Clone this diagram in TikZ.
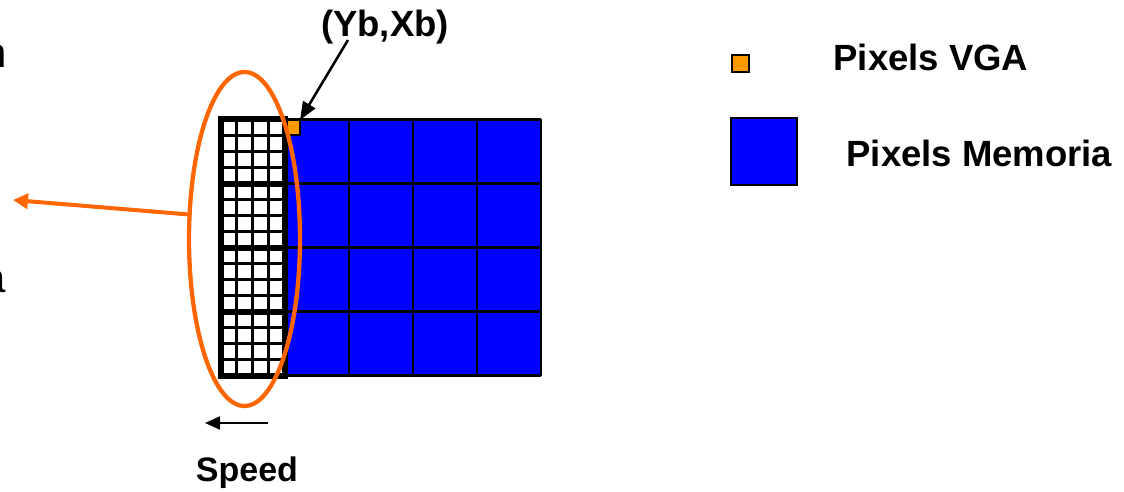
\documentclass[tikz,border=0pt]{standalone}
\usepackage{fontspec}
\setmainfont{Liberation Sans}
\usetikzlibrary{arrows.meta,shapes.geometric}
\definecolor{memblue}{RGB}{0,0,255}
\definecolor{vgaorange}{RGB}{255,153,0}
\definecolor{ringorange}{RGB}{255,102,0}
\tikzset{
  lbl/.style={font=\fontsize{36.5}{40}\selectfont\bfseries, inner sep=0pt, outer sep=0pt},
  cut/.style={font=\fontsize{42}{46}\selectfont, inner sep=0pt, outer sep=0pt},
  vgapix/.style={draw=black, line width=2pt, fill=vgaorange, minimum size=15pt, inner sep=0pt, outer sep=0pt},
  mempix/.style={draw=black, line width=2pt, fill=memblue, minimum size=65pt, inner sep=0pt, outer sep=0pt},
  gridline/.style={line width=2.7pt, black},
  thinline/.style={line width=2.5pt, black},
  thickline/.style={line width=6pt, black, line join=miter},
  ringstyle/.style={draw=ringorange, line width=4.3pt, ellipse, inner sep=0pt, outer sep=0pt},
  blackarrow/.style={line width=2.5pt, -{Triangle[length=18pt,width=14pt]}},
  speedarrow/.style={line width=2pt, -{Triangle[length=15pt,width=13pt]}},
  ringarrow/.style={draw=ringorange, line width=4pt, -{Triangle[length=15pt,width=15pt]}}
}
\begin{document}
\begin{tikzpicture}[x=1pt,y=-1pt]
\useasboundingbox (0,0) rectangle (1124,492);

% cut-off texts at the left edge
\node[cut, anchor=base east] (cutn) at (6.7,68) {n};
\node[cut, anchor=base east] (cuta) at (5.5,292.7) {a};

% memory pixels grid
\fill[memblue] (285,119.5) rectangle (541,375.5);
\foreach \i in {0,...,4} {
  \draw[gridline] (285+64*\i,119.5) -- (285+64*\i,375.5);
  \draw[gridline] (285,119.5+64*\i) -- (541,119.5+64*\i);
}

% VGA pixel
\node[vgapix] (vga) at (292.5,127.5) {};

% white VGA column
\fill[white] (220.5,119.5) rectangle (284.5,375.5);
\foreach \j in {1,2,3,5,6,7,9,10,11,13,14,15} {
  \draw[thinline] (220.5,119.5+16*\j) -- (284.5,119.5+16*\j);
}
\foreach \i in {1,2,3} {
  \draw[thinline] (220.5+16*\i,119.5) -- (220.5+16*\i,375.5);
}
\foreach \k in {1,2,3} {
  \draw[thickline] (220.5,119.5+64*\k) -- (284.5,119.5+64*\k);
}
\draw[thickline] (220.5,119.5) rectangle (284.5,375.5);

% orange ring
\node[ringstyle, minimum width=111pt, minimum height=334pt] (ring) at (244.5,239) {};
\coordinate (ringtip) at (13,200);
\draw[ringarrow] (ring.156) -- (ringtip);

% (Yb,Xb) label and arrow
\node[lbl, anchor=base] (ybxb) at (385,37) {(Yb,Xb)};
\coordinate (ybstart) at (348,40);
\draw[blackarrow] (ybstart) -- (vga.north east);

% Speed
\coordinate (spdtail) at (268,423);
\coordinate (spdtip) at (205,423);
\draw[speedarrow] (spdtail) -- (spdtip);
\node[lbl, font=\fontsize{34}{38}\selectfont\bfseries, anchor=base] (speed) at (247,481) {Speed};

% legend
\node[vgapix, minimum size=17pt] (legvga) at (740,64) {};
\node[lbl, anchor=base west] (legvgatxt) at (833.5,70.7) {Pixels VGA};
\node[mempix, minimum size=66pt] (legmem) at (764,151.5) {};
\node[lbl, anchor=base west] (legmemtxt) at (846.5,166.7) {Pixels Memoria};
\end{tikzpicture}
\end{document}
